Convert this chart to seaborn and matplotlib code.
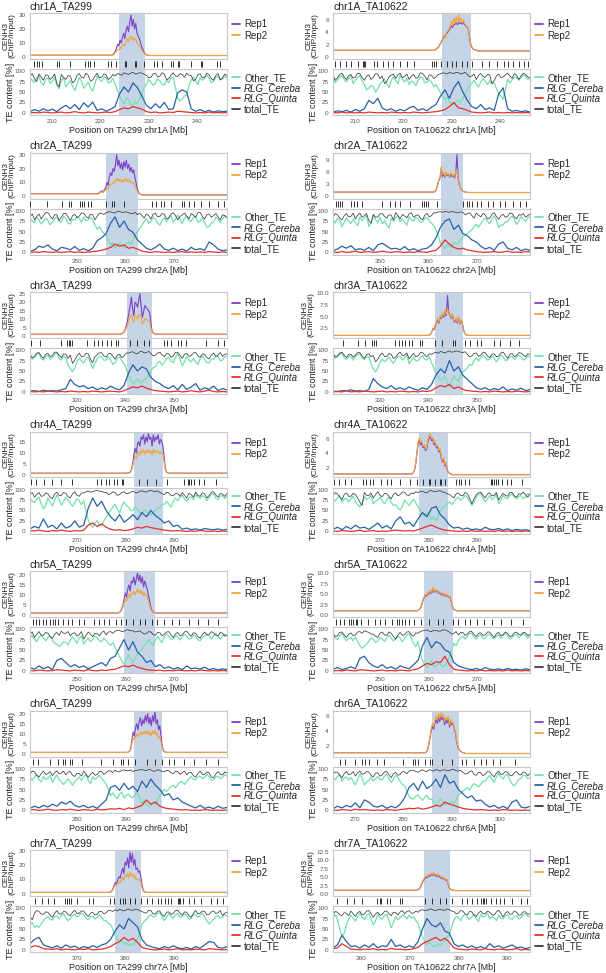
import numpy as np
import matplotlib
matplotlib.use("Agg")
import matplotlib.pyplot as plt
from matplotlib.lines import Line2D
import seaborn as sns

sns.set_theme(style="white")
plt.rcParams["font.family"] = ["Liberation Sans", "DejaVu Sans"]

panels = ["chr1A_TA299", "chr1A_TA10622", "chr2A_TA299", "chr2A_TA10622",
          "chr3A_TA299", "chr3A_TA10622", "chr4A_TA299", "chr4A_TA10622",
          "chr5A_TA299", "chr5A_TA10622", "chr6A_TA299", "chr6A_TA10622",
          "chr7A_TA299", "chr7A_TA10622"]
x_start = [205.5, 205.5, 340.3, 340.3, 320.3, 320.3, 260.3, 260.3, 240.3, 240.3, 270.3, 265.5, 360.3, 354.1]
x_end = [246.1, 246.1, 380.9, 380.9, 360.9, 360.9, 300.9, 300.9, 280.9, 280.9, 310.9, 306.1, 400.9, 394.7]
x_ticks = [[210, 220, 230, 240], [210, 220, 230, 240], [350, 360, 370], [350, 360, 370],
           [330, 340, 350], [330, 340, 350], [270, 280, 290], [270, 280, 290],
           [250, 260, 270], [250, 260, 270], [280, 290, 300], [270, 280, 290, 300],
           [370, 380, 390], [360, 370, 380, 390]]
cen_start = [223.8, 227.9, 355.9, 362.6, 340.2, 341.4, 281.7, 278.1, 259.7, 259.1, 291.8, 286.0, 377.9, 372.8]
cen_end = [229.3, 233.9, 362.6, 367.0, 345.5, 347.1, 287.8, 283.9, 266.0, 265.1, 297.5, 291.5, 383.2, 378.3]
chip_ylim = [(-1.5, 31.5), (-0.3, 7.1), (-1.5, 31.5), (-0.5, 11.0), (-1.2, 26.0), (0.45, 10.25),
             (-0.9, 19.5), (0.6, 7.1), (-1.0, 22.0), (-0.5, 10.6), (-1.0, 21.5), (0.6, 6.7),
             (-1.5, 30.5), (-0.6, 13.0)]
chip_yticks = [[0, 10, 20, 30], [0, 2, 4, 6], [0, 10, 20, 30], [0, 3, 6, 9],
               [0, 5, 10, 15, 20, 25], [2.5, 5.0, 7.5, 10.0], [0, 5, 10, 15], [2, 4, 6],
               [0, 5, 10, 15, 20], [0.0, 2.5, 5.0, 7.5, 10.0], [0, 5, 10, 15, 20], [2, 4, 6],
               [0, 10, 20, 30], [0.0, 2.5, 5.0, 7.5, 10.0, 12.5]]

# CENH3 ChIP/input, 0.25 Mb bins starting 1.5 Mb before each centromere
rep1 = [
    [1.2, 1.5, 2.5, 4, 6, 9, 8, 12, 10, 14, 17, 13, 19, 22, 18, 25, 30, 22, 27, 20, 24, 17, 15, 13, 10, 7, 5, 3, 2, 1.5, 1.2, 1.1, 1, 1, 1],
    [1.1, 1.2, 1.4, 1.6, 1.8, 2.2, 2.5, 3, 3.4, 3.2, 3.8, 4, 4.3, 4.6, 5, 4.8, 5.2, 5.3, 5.5, 5.2, 5.6, 5.4, 5.5, 5.3, 5.6, 5.2, 5, 4.8, 4.5, 3, 2, 1.5, 1.3, 1.2, 1.1, 1.1, 1],
    [2, 3, 3.5, 4, 3, 5, 6, 10, 8, 14, 17, 15, 20, 18, 22, 30, 22, 26, 20, 24, 19, 25, 21, 26, 20, 23, 18, 21, 17, 19, 14, 10, 6, 3, 2, 1.5, 1.2, 1.1, 1],
    [1.1, 1.3, 1.8, 2.8, 4, 4.5, 7, 5, 5.5, 4.8, 6, 5.2, 5.5, 4.8, 5.8, 5, 5.2, 4.6, 5.8, 10.5, 4.5, 3, 2, 1.6, 1.3, 1.2, 1.1, 1.1, 1, 1],
    [1, 1.1, 1.3, 1.8, 2.5, 4, 7, 10, 14, 18, 23, 16, 12, 20, 19, 17, 21, 25, 18, 11, 14, 18, 17, 16, 15, 14, 8, 3, 1.8, 1.3, 1.1, 1, 1, 1],
    [1, 1.1, 1.3, 1.7, 2.5, 2.2, 3.2, 3.8, 4.3, 3.6, 5, 4.6, 5.5, 4.9, 6, 5.2, 9.5, 5.8, 5.3, 4.6, 5.5, 4.2, 3.8, 4.5, 3.6, 4.8, 3.4, 4.2, 3.8, 2.4, 1.5, 1.2, 1.1, 1, 1],
    [1, 1.1, 1.2, 1.5, 2.5, 5, 9, 12, 10, 14, 15, 13, 17, 16, 18, 14, 17, 15, 18.5, 16, 17, 13, 18, 15, 17, 16, 18, 14, 16, 15, 13, 8, 3, 1.5, 1.2, 1, 1],
    [1.1, 1.3, 1.6, 2.5, 4, 5.3, 5.8, 5.2, 5.5, 4.8, 5, 4.4, 4.6, 5.6, 6.2, 6.4, 5.8, 6, 5.2, 5.5, 4.8, 5, 4.2, 4.5, 3.4, 2.8, 3.2, 2.2, 2.6, 1.6, 1.3, 1.2, 1.1, 1, 1, 1],
    [1, 1.1, 1.3, 1.8, 3, 5, 8, 11, 9, 13, 15, 12, 17, 16, 19, 15, 18, 21, 17, 20, 16, 19, 14, 17, 15, 13, 10, 7, 4, 2, 1.4, 1.2, 1.1, 1, 1],
    [1, 1.1, 1.3, 1.7, 2.5, 3.5, 4.2, 4.8, 4.5, 5.2, 5, 5.6, 5.2, 6.2, 5.4, 6, 5.5, 5.8, 5.2, 5.4, 4.8, 5.2, 4.6, 5, 4.4, 4.8, 4.2, 4.5, 3.5, 2.2, 1.5, 1.2, 1.1, 1, 1, 1, 1],
    [1, 1.2, 1.6, 3, 7, 11, 9, 13, 15, 12, 16, 18, 14, 17, 15, 19, 16, 20, 15, 18, 14, 19, 16, 21, 15, 17, 12, 14, 9, 4, 2, 1.3, 1.1, 1, 1],
    [1.1, 1.2, 1.5, 2.2, 3, 4, 4.6, 4.2, 5, 5.5, 5, 5.8, 5.2, 6, 5.5, 5.8, 4.8, 5.5, 5, 5.8, 4.5, 5.2, 4.8, 5, 4.2, 3.6, 2.5, 1.8, 1.5, 1.3, 1.2, 1.1, 1.1, 1, 1],
    [1, 1.1, 1.3, 2, 3.5, 6, 8, 7, 10, 12, 11, 15, 18, 14, 22, 20, 25, 18, 29, 22, 28, 20, 24, 17, 18, 15, 16, 12, 6, 2.5, 1.4, 1.1, 1, 1],
    [1.1, 1.2, 1.4, 1.8, 2.5, 3.5, 4, 4.6, 5, 4.8, 5.5, 5.2, 5.8, 5.4, 6, 5.6, 5.2, 5.8, 5, 5.4, 4.6, 5, 4.4, 4.6, 4, 4.2, 3, 1.8, 1.4, 1.2, 1.1, 1.1, 1, 1, 1],
]
rep2 = [
    [1.1, 1.3, 2, 3, 4, 5, 5, 7, 6, 8, 9, 8, 11, 13, 11, 14, 15, 12, 14, 12, 13, 10, 9, 8, 6, 5, 3.5, 2.5, 1.8, 1.3, 1.1, 1, 1, 1, 1],
    [1.1, 1.2, 1.3, 1.5, 1.9, 2.3, 2.4, 3.1, 3.6, 3, 4, 4.2, 4.5, 5, 5.8, 5, 6.2, 5.5, 6.5, 5.4, 6.8, 5.6, 6.3, 5.5, 6, 5.3, 5.1, 4.9, 4.6, 3.2, 2.1, 1.6, 1.3, 1.2, 1.1, 1, 1],
    [1.8, 2.5, 3, 3.3, 2.8, 4, 4.5, 6, 5.5, 8, 9, 8.5, 10, 9.5, 11, 13, 11, 12.5, 10.5, 12, 10, 12.5, 11, 13, 10.5, 12, 10, 11, 9.5, 10, 8, 6, 4, 2.5, 1.8, 1.3, 1.1, 1, 1],
    [1.1, 1.3, 1.9, 3, 4.2, 4.8, 7.5, 5.5, 6, 5, 6.2, 5.4, 5.7, 5, 6, 5.3, 5.5, 4.8, 6.2, 6.8, 4.2, 2.8, 2, 1.5, 1.3, 1.2, 1.1, 1, 1, 1],
    [1, 1.1, 1.2, 1.6, 2.2, 3.5, 5, 7, 9, 11, 13, 10, 8, 12, 11.5, 10, 12, 13, 11, 7, 8, 10, 10, 9.5, 9, 8.5, 5, 2.5, 1.6, 1.2, 1.1, 1, 1, 1],
    [1, 1.1, 1.3, 1.8, 2.6, 2.4, 3.4, 4, 4.6, 3.8, 5.3, 4.8, 5.8, 5.2, 6.4, 5.5, 6.6, 6, 5.5, 4.8, 5.7, 4.4, 4, 4.7, 3.8, 5, 3.6, 4.4, 4, 2.6, 1.6, 1.2, 1.1, 1, 1],
    [1, 1, 1.1, 1.4, 2.2, 4, 6.5, 8.5, 7.5, 10, 10.5, 9, 11, 10, 11.5, 9.5, 11, 10, 11.5, 10, 11, 9, 11.5, 10, 11, 10.5, 11, 9.5, 10.5, 10, 9, 6, 2.5, 1.4, 1.1, 1, 1],
    [1.1, 1.3, 1.7, 2.7, 4.3, 5.6, 6.2, 5.5, 5.8, 5, 5.3, 4.6, 4.8, 6, 6.6, 6.8, 6.1, 6.3, 5.5, 5.8, 5, 5.2, 4.4, 4.7, 3.6, 3, 3.4, 2.4, 2.8, 1.7, 1.3, 1.2, 1.1, 1, 1, 1],
    [1, 1.1, 1.2, 1.6, 2.5, 4, 6, 8, 7, 9, 10.5, 8.5, 11, 10.5, 12, 10, 11.5, 13, 11, 12.5, 10.5, 12, 9.5, 11, 10, 9, 7, 5, 3, 1.8, 1.3, 1.1, 1, 1, 1],
    [1, 1.1, 1.3, 1.8, 2.7, 3.8, 4.4, 5, 4.7, 5.5, 5.2, 6, 5.4, 6.6, 5.6, 6.2, 5.7, 6, 5.4, 5.6, 5, 5.4, 4.8, 5.2, 4.5, 4.9, 4.3, 4.6, 3.6, 2.3, 1.6, 1.2, 1.1, 1, 1, 1, 1],
    [1, 1.1, 1.5, 2.6, 5.5, 8, 7, 9, 10, 8.5, 10.5, 11, 9.5, 11, 10, 11.5, 10, 11.5, 9.5, 11, 9, 11.5, 10, 12, 9.5, 10.5, 8, 9, 6, 3, 1.6, 1.2, 1, 1, 1],
    [1.1, 1.2, 1.6, 2.4, 3.2, 4.3, 5, 4.5, 5.4, 6, 5.4, 6.3, 5.6, 6.4, 5.8, 6.2, 5.2, 5.8, 5.4, 6, 4.8, 5.5, 5, 5.2, 4.4, 3.8, 2.6, 1.9, 1.5, 1.3, 1.2, 1.1, 1.1, 1, 1],
    [1, 1.1, 1.2, 1.8, 3, 5, 6.5, 6, 7.5, 8.5, 8, 10, 11.5, 9.5, 13, 12, 14, 11, 15, 12.5, 14, 11.5, 13, 10, 11, 9.5, 10, 8, 4, 2, 1.3, 1.1, 1, 1],
    [1.1, 1.2, 1.5, 2, 2.8, 3.8, 4.3, 5, 5.4, 5.1, 5.9, 5.5, 6.2, 5.7, 6.3, 5.9, 5.5, 6, 5.3, 5.6, 4.9, 5.2, 4.6, 4.8, 4.2, 4.4, 3.1, 1.9, 1.5, 1.2, 1.1, 1.1, 1, 1, 1],
]

# gene positions (Mb)
genes = [
    [206.4, 206.9, 207.4, 207.9, 211.0, 211.5, 213.8, 216.9, 217.4, 217.9, 218.6, 221.5, 222.2, 223.2, 225.0, 225.2, 227.2, 227.4, 229.0, 231.0, 231.7, 232.8, 234.5, 235.0, 235.9, 236.2, 238.6, 240.7, 240.9, 244.1, 244.6],
    [205.9, 206.9, 208.1, 209.3, 210.7, 211.6, 211.9, 212.1, 213.9, 214.6, 215.9, 216.9, 217.8, 219.4, 220.8, 222.1, 226.0, 226.3, 226.8, 227.7, 229.0, 230.0, 230.9, 232.1, 233.1, 234.1, 236.2, 237.6, 239.3, 240.7, 241.5, 242.6, 243.8, 244.8, 245.7],
    [340.2, 343.8, 346.9, 348.3, 348.8, 350.7, 351.0, 351.4, 352.2, 352.8, 355.9, 357.2, 357.6, 359.7, 365.5, 366.2, 367.2, 367.9, 369.3, 371.7, 372.1, 373.1, 374.1, 375.5, 377.2, 379.0, 380.2],
    [341.0, 341.4, 341.7, 342.1, 344.1, 344.6, 345.3, 346.2, 350.5, 352.1, 353.1, 354.1, 356.1, 358.6, 359.1, 359.5, 359.8, 361.7, 367.1, 367.9, 368.4, 368.9, 370.0, 370.7, 372.2, 373.3, 374.7, 375.7, 377.4, 378.8, 380.0],
    [320.5, 322.3, 326.7, 327.9, 328.3, 328.6, 329.0, 332.1, 333.4, 334.3, 335.2, 336.1, 337.0, 338.1, 338.4, 341.0, 342.4, 343.7, 344.8, 347.9, 348.6, 349.4, 350.7, 351.4, 352.4, 356.6, 359.0, 360.2],
    [322.4, 325.5, 326.9, 328.3, 328.8, 329.2, 333.1, 333.8, 334.5, 335.2, 335.9, 336.6, 338.3, 338.6, 341.4, 342.8, 345.0, 345.5, 347.6, 348.6, 349.9, 350.7, 353.4, 354.8, 356.8, 358.6],
    [260.5, 261.6, 263.1, 264.8, 266.6, 269.0, 274.1, 274.9, 275.9, 276.6, 277.6, 278.3, 279.3, 279.5, 282.8, 284.5, 286.2, 288.6, 292.1, 292.8, 293.1, 293.4, 294.1, 295.2, 296.2, 298.6],
    [260.5, 261.6, 262.8, 264.1, 266.4, 267.1, 267.9, 268.6, 270.1, 271.4, 272.2, 274.1, 276.2, 277.7, 278.9, 280.0, 280.3, 281.4, 282.3, 282.6, 283.4, 285.7, 286.2, 286.7, 287.6, 288.3, 292.8, 293.1, 293.4, 293.8, 294.3, 295.2, 296.2, 297.0, 299.3],
    [241.0, 241.5, 242.2, 243.0, 243.5, 244.5, 245.0, 245.5, 246.0, 247.0, 248.2, 249.0, 250.5, 251.5, 253.5, 254.5, 255.5, 256.5, 258.0, 259.0, 260.0, 261.5, 263.0, 264.0, 265.5, 266.5, 268.0, 269.5, 271.0, 273.0, 275.0, 277.0, 279.0],
    [241.0, 241.8, 242.5, 243.5, 244.0, 244.5, 245.0, 245.3, 246.0, 247.5, 249.0, 250.0, 251.0, 252.5, 253.5, 254.0, 254.6, 255.2, 256.0, 257.0, 258.5, 260.0, 262.0, 263.0, 265.0, 266.0, 267.5, 268.5, 270.0, 271.5, 273.0, 275.0, 277.0, 279.5],
    [271.0, 272.0, 274.5, 276.0, 277.0, 277.5, 278.5, 279.0, 281.0, 285.0, 287.5, 289.0, 289.5, 290.5, 292.0, 294.5, 296.0, 297.5, 299.0, 300.0, 302.0, 304.0, 306.5, 309.0],
    [267.0, 268.0, 270.0, 271.5, 272.0, 273.0, 274.5, 276.0, 280.0, 282.0, 282.5, 283.0, 284.5, 285.5, 286.0, 288.0, 290.0, 292.0, 293.0, 294.5, 296.0, 297.0, 298.5, 300.0, 303.0],
    [361.4, 362.8, 364.1, 365.3, 367.6, 367.9, 368.3, 368.8, 369.9, 372.4, 373.3, 376.8, 377.6, 378.8, 379.5, 379.8, 380.9, 381.9, 383.1, 384.5, 385.5, 386.6, 387.4, 388.1, 388.8, 389.4, 390.7, 391.1, 391.3, 391.8, 393.1, 394.1, 395.5, 397.6, 398.8, 400.0],
    [355.0, 356.9, 358.4, 360.0, 363.1, 363.7, 363.9, 365.2, 365.9, 367.9, 368.3, 373.1, 374.5, 376.1, 377.4, 378.6, 380.7, 381.7, 382.8, 383.8, 384.5, 385.0, 385.3, 385.7, 386.6, 387.6, 388.6, 389.4, 391.0, 392.8, 394.1],
]

# TE content [%], equal bins across each window
other_te = [
    [85, 78, 73, 84, 89, 72, 66, 80, 84, 70, 76, 86, 66, 58, 78, 85, 62, 70, 77, 64, 53, 68, 85, 76, 59, 66, 74, 60, 52, 70, 89, 80, 75, 86, 85, 72, 74, 82, 70, 55,
     40, 30, 22, 35, 32, 20, 15, 28, 22, 35, 46, 60,
     69, 80, 74, 66, 71, 82, 76, 68, 67, 78, 72, 84, 85, 60, 35, 28, 34, 40, 43, 65, 78, 86, 76, 68, 84, 78, 83, 90, 83, 72, 76, 85, 88, 79, 81, 88, 83],
    [88, 72, 79, 86, 90, 80, 74, 83, 89, 70, 78, 85, 89, 76, 68, 55, 59, 66, 62, 50, 58, 70, 75, 82, 69, 60, 78, 86, 77, 70, 90, 80, 74, 83, 68, 76, 74, 65, 78, 86,
     84, 72, 73, 80, 74, 62, 68, 58, 48, 40, 32, 38, 27, 22, 20, 28, 30, 25, 35, 45, 56, 64, 71, 78, 69, 62, 74, 82, 76, 68, 77, 70, 71, 58, 47, 40, 32, 55,
     80, 72, 79, 86, 84, 78, 85, 90, 89, 80, 82],
    [82, 75, 71, 84, 77, 68, 74, 82, 76, 66, 72, 80, 85, 74, 72, 86, 82, 70, 68, 79, 77, 85, 82, 72, 85, 76, 78, 84, 78, 66, 55, 62, 53, 45,
     40, 28, 18, 24, 10, 16, 22, 15, 12, 20, 25, 18, 30, 40, 50, 58,
     65, 74, 81, 70, 74, 84, 80, 70, 65, 76, 83, 74, 82, 88, 72, 80, 90, 78, 69, 82, 87, 76, 74, 84, 86, 72, 75, 82, 70, 60, 62, 70, 73, 84, 80, 72, 80, 88, 83],
    [79, 70, 82, 76, 61, 72, 83, 75, 69, 80, 71, 64, 85, 76, 82, 88, 62, 70, 88, 78, 72, 84, 68, 76, 66, 58, 81, 74, 83, 88, 73, 80, 73, 65, 86, 78, 75, 84, 80, 72,
     73, 82, 83, 76, 70, 64, 54, 40, 22, 15, 10, 18, 15, 12, 25, 20, 22, 30, 38, 42, 45, 50, 54, 62, 67, 60, 69, 76,
     82, 74, 69, 80, 88, 78, 59, 66, 65, 74, 73, 82, 87, 78, 67, 74, 85, 80, 74, 82, 86],
    [87, 78, 82, 90, 92, 80, 76, 84, 88, 78, 83, 90, 93, 80, 76, 86, 82, 64, 56, 48, 57, 72, 81, 74, 69, 80, 83, 70, 56, 68, 78, 86, 84, 76, 76, 84, 76, 66, 69, 80,
     85, 74, 68, 55, 40, 30, 19, 26, 31, 22, 23, 30, 31, 42, 51, 58, 60, 70,
     73, 64, 71, 80, 83, 74, 70, 82, 92, 78, 62, 72, 85, 76, 72, 80, 71, 66, 79, 86, 78, 70, 69, 78, 78, 84, 85, 74, 76, 84, 86],
    [90, 80, 84, 90, 92, 82, 77, 86, 85, 76, 85, 90, 91, 80, 77, 84, 84, 66, 55, 48, 57, 70, 79, 72, 77, 84, 75, 68, 77, 86, 85, 76, 82, 88, 67, 76, 84, 74, 75, 82,
     87, 78, 76, 84, 70, 58, 45, 36, 27, 32, 36, 22, 12, 25, 38, 30, 25, 40, 48, 52, 57, 66, 64, 75,
     82, 74, 82, 88, 83, 76, 78, 86, 81, 72, 80, 88, 83, 75, 77, 84, 85, 78, 83, 88, 84, 76, 80, 86, 83],
    [80, 72, 69, 78, 82, 66, 54, 62, 80, 70, 61, 74, 87, 76, 63, 72, 82, 74, 68, 60, 68, 78, 73, 64, 74, 50,
     27, 18, 10, 20, 26, 14, 15, 25, 34, 42, 50, 58, 65, 54, 44, 60, 71, 62, 58, 50,
     50, 58, 54, 46, 44, 52, 47, 40, 39, 46, 50, 56, 58, 64,
     65, 72, 65, 58, 72, 80, 73, 82, 87, 78, 72, 80, 83, 76, 88, 82, 79, 86, 82, 74, 81, 88, 90, 80, 76, 84, 86, 78, 86],
    [79, 72, 80, 86, 70, 78, 79, 70, 78, 84, 72, 64, 59, 68, 83, 76, 80, 86, 66, 72, 75, 82, 74, 66, 76, 82, 70, 62, 64, 56, 51, 60, 75, 68, 62, 70, 77, 68, 59, 50,
     43, 36, 45, 40, 28, 34, 25, 38, 51, 56, 60, 66,
     71, 64, 71, 78, 82, 74, 79, 86, 82, 72, 62, 70, 82, 88, 90, 80, 70, 78, 86, 76, 81, 88, 66, 74, 86, 80, 78, 86, 91, 82, 77, 84, 86, 78, 83, 90, 88],
    [79, 85, 76, 70, 80, 86, 79, 72, 80, 84, 74, 66, 64, 58, 63, 70, 69, 62, 74, 82, 74, 66, 78, 84, 64, 72, 78, 70, 76, 84, 79, 72, 70, 78, 73, 66, 61, 68, 56, 45,
     34, 24, 15, 28, 38, 30, 20, 32, 40, 46, 51, 60,
     67, 74, 66, 60, 74, 82, 74, 68, 82, 88, 83, 76, 76, 84, 82, 74, 82, 88, 83, 76, 78, 86, 83, 74, 72, 80, 83, 88, 84, 76, 84, 90, 82, 76, 84, 88, 83],
    [86, 78, 75, 84, 90, 80, 72, 78, 80, 72, 81, 70, 61, 54, 59, 64, 71, 78, 76, 68, 71, 80, 76, 70, 79, 86, 79, 72, 76, 84, 78, 70, 78, 86, 89, 78, 65, 58, 70, 45,
     24, 15, 8, 16, 24, 12, 10, 18, 15, 10, 13, 22, 33, 50,
     66, 60, 72, 80, 83, 76, 83, 90, 90, 80, 76, 84, 87, 78, 78, 86, 88, 80, 77, 84, 86, 78, 85, 90, 82, 76, 81, 86, 88, 80, 84, 90, 85, 78, 85],
    [80, 72, 80, 86, 74, 68, 81, 74, 77, 84, 67, 76, 85, 74, 68, 62, 69, 76, 68, 60, 68, 74, 80, 72, 80, 86, 72, 64, 81, 74, 78, 84, 77, 70, 63, 50,
     35, 42, 33, 28, 39, 44, 30, 36, 39, 32, 31, 40, 43, 30, 16, 24, 15, 10, 10, 18, 14, 24, 36, 44,
     51, 45, 51, 58, 60, 54, 61, 68, 69, 62, 68, 76, 81, 74, 73, 80, 82, 76, 79, 86, 81, 72, 74, 80, 82, 76, 80, 86, 81],
    [80, 73, 81, 86, 70, 78, 80, 72, 79, 70, 61, 74, 87, 78, 61, 68, 71, 80, 70, 76, 81, 74, 73, 82, 86, 76, 67, 74, 85, 78, 69, 62, 59, 45,
     34, 28, 27, 34, 37, 30, 24, 32, 36, 26, 28, 20, 11, 18, 29, 20, 12, 18, 15, 22, 16, 26, 36, 42,
     46, 50, 55, 48, 58, 64, 61, 56, 63, 70, 70, 78, 84, 74, 67, 80, 89, 80, 75, 84, 86, 72, 63, 58, 67, 74, 77, 84, 83, 76, 78],
    [60, 66, 53, 58, 54, 62, 70, 76, 80, 72, 72, 80, 81, 74, 82, 86, 77, 70, 75, 82, 86, 78, 84, 88, 84, 76, 72, 80, 80, 74, 78, 84, 78, 70, 70, 64,
     61, 50, 36, 26, 17, 22, 13, 18, 10, 15, 12, 20, 24, 40,
     61, 68, 73, 80, 85, 78, 81, 88, 89, 80, 70, 78, 87, 80, 76, 84, 87, 78, 80, 86, 83, 74, 76, 84, 84, 78, 83, 88, 80, 70, 62, 68, 73, 80, 82, 76, 78, 84, 81],
    [77, 84, 73, 50, 32, 40, 60, 74, 83, 76, 69, 80, 88, 78, 72, 82, 87, 74, 60, 70, 85, 76, 74, 82, 85, 70, 53, 66, 80, 72, 77, 84, 81, 74, 83, 76, 79, 70, 64, 45,
     31, 20, 12, 18, 13, 8, 9, 15, 10, 16, 22, 30, 38, 55,
     72, 80, 78, 70, 80, 86, 79, 72, 79, 86, 75, 68, 85, 78, 81, 88, 74, 80, 77, 70, 83, 76, 74, 82, 84, 76, 73, 80, 82, 74, 77, 84, 87, 80, 81],
]
cereba = [
    [3, 8, 4, 10, 5, 9, 3, 12, 18, 10, 20, 8, 24, 14, 26, 6, 10, 4, 9, 15, 45, 62, 50, 72, 60, 40, 18, 10, 22, 12, 25, 8, 10, 48, 55, 50, 10, 4, 8, 3, 6, 2, 5, 3, 4],
    [2, 5, 3, 6, 2, 8, 4, 10, 30, 22, 35, 12, 6, 10, 4, 8, 5, 12, 16, 6, 10, 5, 14, 20, 40, 55, 35, 60, 75, 50, 30, 15, 10, 20, 8, 12, 6, 45, 60, 10, 4, 6, 3, 5, 2],
    [3, 6, 15, 12, 18, 8, 4, 12, 10, 6, 14, 5, 9, 4, 10, 28, 35, 45, 70, 85, 60, 75, 55, 48, 30, 20, 10, 6, 12, 20, 8, 5, 10, 4, 8, 3, 12, 6, 9, 5, 25, 18, 8, 4, 6],
    [4, 8, 15, 10, 16, 6, 9, 5, 12, 4, 18, 22, 15, 8, 10, 6, 14, 5, 9, 4, 8, 10, 18, 35, 60, 75, 80, 55, 65, 45, 40, 30, 25, 15, 8, 12, 5, 20, 25, 10, 6, 12, 4, 8, 5],
    [2, 3, 1, 4, 2, 3, 2, 5, 8, 30, 18, 12, 15, 8, 12, 5, 10, 6, 14, 8, 5, 15, 45, 65, 50, 60, 55, 35, 25, 20, 12, 8, 15, 5, 18, 6, 12, 20, 4, 10, 6, 14, 3, 8, 5],
    [2, 1, 3, 2, 5, 2, 3, 1, 6, 32, 20, 12, 8, 15, 6, 10, 5, 12, 7, 4, 10, 6, 18, 40, 55, 45, 75, 50, 60, 40, 30, 20, 10, 6, 10, 4, 8, 5, 12, 3, 7, 4, 9, 3, 6],
    [6, 12, 8, 30, 10, 15, 6, 20, 8, 12, 25, 10, 15, 55, 80, 60, 72, 50, 35, 25, 40, 22, 30, 40, 28, 45, 35, 50, 38, 30, 20, 25, 12, 15, 5, 8, 4, 6, 3, 7, 5, 4, 6, 3, 5],
    [5, 10, 4, 12, 6, 15, 8, 10, 5, 12, 20, 8, 14, 6, 25, 35, 18, 22, 12, 30, 45, 35, 55, 60, 40, 30, 15, 8, 10, 5, 8, 4, 6, 3, 10, 5, 4, 7, 3, 6, 2, 5, 3, 4, 2],
    [8, 4, 12, 5, 10, 3, 25, 30, 20, 10, 15, 8, 12, 5, 10, 15, 20, 12, 30, 35, 55, 75, 50, 70, 45, 35, 20, 25, 10, 15, 6, 10, 4, 8, 3, 12, 5, 7, 4, 9, 3, 6, 2, 5, 3],
    [4, 8, 3, 6, 10, 5, 30, 35, 20, 12, 8, 15, 6, 10, 4, 12, 8, 5, 15, 25, 60, 80, 55, 70, 65, 50, 45, 20, 12, 8, 5, 3, 6, 2, 8, 4, 3, 5, 2, 6, 3, 4, 2, 5, 3],
    [5, 10, 6, 12, 8, 15, 10, 20, 15, 22, 12, 8, 12, 6, 10, 5, 15, 25, 55, 60, 48, 65, 50, 58, 45, 70, 55, 75, 60, 50, 35, 40, 25, 30, 20, 15, 10, 6, 12, 5, 8, 4, 10, 5, 7],
    [4, 10, 6, 12, 8, 18, 6, 25, 20, 10, 8, 12, 5, 10, 6, 15, 30, 55, 65, 48, 70, 52, 60, 75, 55, 85, 65, 70, 50, 40, 30, 35, 22, 25, 15, 8, 12, 5, 10, 4, 20, 25, 8, 6, 10],
    [15, 25, 30, 12, 8, 5, 10, 4, 12, 6, 9, 3, 8, 5, 10, 6, 12, 15, 25, 45, 60, 50, 75, 65, 55, 25, 12, 8, 5, 3, 8, 4, 10, 5, 3, 6, 2, 8, 4, 12, 20, 18, 6, 4, 8],
    [5, 12, 35, 20, 8, 10, 4, 12, 6, 15, 5, 10, 8, 25, 8, 12, 5, 10, 6, 20, 50, 75, 60, 55, 65, 45, 40, 15, 8, 12, 5, 10, 4, 8, 3, 15, 6, 10, 4, 8, 12, 5, 7, 3, 6],
]
quinta = [
    [0, 1, 0, 2, 1, 0, 1, 2, 0, 1, 3, 1, 0, 2, 1, 0, 1, 2, 1, 3, 8, 12, 10, 15, 12, 9, 3, 1, 2, 0, 1, 2, 1, 4, 3, 2, 1, 0, 1, 0, 2, 0, 1, 0, 1],
    [1, 0, 2, 0, 1, 0, 1, 0, 2, 1, 0, 1, 0, 2, 1, 0, 1, 0, 2, 1, 0, 1, 2, 3, 5, 8, 15, 25, 12, 10, 6, 2, 1, 0, 1, 2, 0, 1, 0, 1, 0, 1, 0, 1, 0],
    [0, 1, 0, 2, 1, 0, 1, 0, 1, 2, 0, 1, 0, 1, 2, 3, 5, 8, 12, 20, 15, 18, 10, 12, 8, 3, 1, 0, 2, 1, 0, 1, 0, 1, 2, 0, 1, 0, 1, 0, 2, 1, 0, 1, 0],
    [1, 0, 2, 0, 1, 3, 0, 1, 2, 0, 1, 3, 1, 0, 2, 1, 0, 1, 0, 2, 1, 0, 3, 5, 15, 30, 20, 12, 8, 10, 6, 4, 2, 1, 0, 1, 2, 0, 1, 3, 0, 1, 0, 2, 1],
    [1, 0, 1, 0, 2, 1, 0, 1, 0, 2, 1, 0, 1, 0, 2, 1, 0, 1, 2, 1, 0, 3, 8, 12, 10, 14, 9, 6, 3, 2, 1, 0, 1, 2, 0, 1, 3, 1, 0, 2, 4, 1, 0, 1, 0],
    [0, 1, 0, 3, 0, 1, 0, 2, 1, 0, 1, 2, 0, 1, 0, 2, 1, 0, 1, 0, 2, 1, 3, 10, 15, 12, 18, 8, 12, 6, 3, 2, 1, 0, 1, 0, 2, 1, 0, 1, 0, 2, 1, 0, 1],
    [2, 1, 3, 1, 0, 2, 1, 3, 1, 0, 2, 1, 3, 15, 20, 12, 18, 10, 5, 3, 4, 2, 3, 6, 10, 8, 12, 9, 7, 5, 3, 2, 1, 2, 1, 0, 1, 0, 2, 1, 0, 1, 0, 1, 0],
    [1, 0, 2, 1, 0, 1, 3, 0, 1, 2, 0, 1, 0, 2, 3, 2, 1, 2, 1, 4, 8, 12, 15, 10, 6, 3, 2, 1, 0, 1, 0, 2, 0, 1, 0, 1, 0, 2, 0, 1, 0, 1, 0, 1, 0],
    [1, 0, 2, 1, 0, 1, 3, 2, 1, 0, 2, 1, 0, 3, 1, 0, 2, 1, 3, 4, 8, 12, 10, 14, 9, 6, 3, 2, 1, 2, 0, 1, 0, 2, 1, 0, 1, 0, 2, 1, 0, 1, 0, 1, 0],
    [0, 1, 0, 2, 1, 0, 3, 2, 1, 0, 1, 2, 0, 1, 0, 2, 1, 0, 3, 5, 12, 18, 15, 22, 20, 35, 15, 4, 2, 1, 0, 1, 0, 2, 0, 1, 0, 1, 0, 2, 0, 1, 0, 1, 0],
    [1, 2, 0, 1, 3, 1, 0, 2, 1, 3, 1, 0, 2, 1, 0, 3, 1, 2, 4, 3, 5, 2, 6, 4, 8, 12, 25, 15, 20, 10, 6, 4, 3, 2, 1, 2, 0, 1, 0, 2, 1, 0, 1, 0, 1],
    [1, 0, 2, 1, 0, 3, 1, 2, 1, 0, 1, 0, 2, 1, 0, 2, 3, 5, 4, 6, 3, 5, 8, 12, 10, 20, 15, 12, 8, 5, 3, 2, 1, 2, 1, 0, 1, 0, 2, 1, 0, 1, 0, 1, 0],
    [5, 10, 8, 3, 2, 1, 3, 0, 2, 1, 0, 2, 1, 3, 0, 1, 2, 4, 8, 15, 20, 30, 22, 28, 18, 6, 3, 1, 0, 1, 2, 0, 1, 3, 0, 1, 0, 2, 1, 0, 3, 2, 1, 0, 1],
    [3, 5, 15, 8, 2, 1, 0, 2, 1, 3, 0, 1, 0, 4, 1, 2, 0, 1, 3, 6, 15, 20, 25, 30, 22, 28, 18, 5, 2, 1, 0, 2, 1, 0, 3, 1, 0, 2, 1, 0, 1, 3, 0, 1, 0],
]
total_te = [
    [88, 94, 82, 75, 93, 86, 78, 91, 90, 80, 85, 93, 70, 62, 92, 85, 80, 89, 88, 72, 76, 90, 94, 85, 83, 95, 90, 76, 79, 88, 95, 84, 86, 93, 91, 80, 84, 92, 88, 94,
     93, 90, 96, 94, 92, 95, 97, 93, 94, 96, 95, 92,
     90, 84, 85, 93, 95, 86, 88, 96, 93, 79, 82, 91, 96, 88, 87, 94, 92, 85, 95, 90, 89, 77, 80, 92, 93, 84, 86, 95, 91, 82, 78, 90, 94, 79, 84, 93, 88],
    [90, 78, 84, 92, 95, 86, 80, 89, 92, 83, 86, 95, 94, 85, 78, 88, 91, 80, 85, 94, 93, 82, 88, 70, 75, 86, 90, 93, 82, 91, 95, 84, 87, 93, 80, 88, 92, 83, 85, 96,
     94, 88, 79, 91, 90, 82, 86, 92, 93, 96, 95, 93, 97, 95, 94, 97, 96, 93, 95, 97, 92, 86, 88, 93, 80, 90, 94, 87, 85, 92, 91, 70, 77, 88, 93, 84, 86, 91,
     95, 88, 83, 94, 90, 80, 88, 95, 92, 86, 84],
    [85, 92, 78, 86, 92, 80, 88, 95, 95, 87, 80, 90, 90, 76, 84, 93, 93, 85, 76, 88, 91, 83, 87, 94, 94, 86, 82, 91, 90, 78, 86, 94, 93, 91,
     95, 97, 97, 95, 94, 98, 98, 96, 96, 97, 95, 93, 93, 96, 90, 94,
     88, 82, 92, 88, 80, 91, 94, 85, 86, 93, 91, 80, 83, 92, 95, 88, 78, 86, 90, 94, 87, 80, 93, 89, 84, 95, 96, 86, 80, 90, 92, 84, 88, 93, 85, 78, 90, 88, 83],
    [84, 93, 90, 82, 78, 88, 93, 85, 86, 94, 80, 89, 94, 84, 88, 93, 76, 70, 91, 84, 85, 92, 93, 86, 82, 90, 89, 78, 95, 88, 80, 91, 87, 83, 92, 95, 84, 88, 90, 82,
     78, 89, 93, 85, 88, 95, 94, 97, 97, 96, 98, 97, 96, 98, 97, 95, 95, 97, 96, 90,
     92, 95, 88, 82, 94, 89, 85, 93, 90, 80, 82, 91, 95, 86, 79, 88, 91, 84, 86, 94, 93, 85, 80, 90, 89, 93, 84, 88, 92],
    [90, 82, 85, 93, 94, 86, 80, 90, 92, 84, 87, 95, 95, 88, 82, 91, 90, 80, 88, 68, 76, 86, 93, 84, 85, 92, 91, 78, 70, 84, 89, 93, 94, 86, 83, 91, 92, 85, 78, 88,
     90, 82, 86, 93, 93, 95, 96, 92, 91, 96, 97, 93, 94, 97, 92, 86,
     88, 93, 95, 89, 84, 92, 91, 83, 86, 95, 94, 88, 80, 90, 92, 85, 87, 93, 95, 86, 83, 91, 90, 82, 79, 88, 93, 85, 88, 94, 85, 90, 91],
    [92, 84, 86, 93, 95, 88, 82, 90, 90, 83, 88, 94, 94, 86, 80, 89, 91, 84, 87, 72, 78, 88, 93, 85, 85, 92, 90, 80, 83, 91, 95, 87, 88, 93, 79, 86, 92, 84, 86, 94,
     94, 88, 84, 91, 90, 93, 95, 92, 97, 95, 93, 96, 98, 95, 96, 98, 97, 95, 94, 96,
     90, 84, 86, 92, 93, 85, 88, 95, 94, 86, 82, 90, 91, 84, 86, 93, 95, 88, 80, 90, 92, 84, 87, 94, 93, 88, 84, 91, 90],
    [88, 93, 82, 88, 93, 84, 85, 92, 90, 82, 78, 89, 94, 86, 86, 93, 91, 83, 80, 90, 95, 86, 84, 92, 92, 95,
     97, 94, 95, 97, 98, 96, 96, 93, 94, 88, 90, 95, 93, 86, 88, 93, 95, 90, 91, 94,
     96, 93, 92, 96, 97, 95, 94, 97, 98, 96, 95, 97, 93, 90,
     88, 94, 92, 86, 85, 91, 90, 84, 93, 87, 80, 91, 88, 82, 94, 86, 84, 92, 90, 80, 86, 93, 95, 87, 82, 91, 89, 84, 91],
    [85, 93, 90, 82, 76, 88, 92, 84, 84, 91, 88, 80, 70, 62, 93, 86, 86, 92, 80, 88, 95, 86, 83, 91, 90, 84, 78, 89, 92, 85, 88, 94, 94, 87, 86, 92, 90, 95,
     93, 96, 96, 93, 92, 97, 98, 95, 95, 97, 97, 94, 93, 90,
     88, 84, 80, 90, 92, 86, 85, 93, 90, 80, 66, 78, 88, 92, 94, 86, 80, 90, 92, 85, 86, 93, 75, 84, 91, 86, 84, 93, 93, 85, 82, 90, 89, 94, 87, 82, 90],
    [88, 93, 80, 87, 94, 86, 85, 92, 90, 82, 78, 88, 92, 85, 95, 90, 90, 94, 84, 90, 91, 83, 87, 94, 76, 85, 93, 88, 82, 90, 89, 84, 92, 95, 86, 93, 94, 90,
     95, 97, 97, 94, 95, 98, 98, 96, 96, 93, 94, 96, 92, 88,
     90, 94, 93, 87, 85, 92, 91, 84, 88, 93, 94, 86, 80, 89, 92, 84, 86, 93, 95, 88, 83, 91, 90, 82, 78, 87, 93, 86, 87, 94, 91, 85, 84, 92, 90, 83, 86],
    [90, 82, 84, 92, 93, 86, 80, 88, 91, 84, 86, 93, 94, 90, 96, 94, 92, 88, 88, 83, 80, 90, 93, 86, 85, 93, 90, 82, 76, 86, 92, 85, 87, 93, 94, 86, 83, 91, 90, 94,
     96, 97, 98, 95, 94, 97, 97, 95, 95, 98, 98, 96, 93, 88,
     90, 94, 86, 92, 92, 85, 88, 94, 94, 87, 82, 90, 91, 85, 86, 93, 93, 86, 80, 89, 92, 84, 87, 93, 90, 82, 84, 91, 93, 87, 86, 92, 91, 84, 88],
    [86, 94, 92, 84, 80, 88, 94, 86, 88, 93, 83, 90, 95, 87, 90, 94, 85, 92, 93, 84, 81, 89, 88, 82, 94, 88, 79, 86, 91, 84, 86, 93, 93, 86, 90, 95,
     94, 91, 96, 93, 92, 96, 97, 95, 95, 97, 93, 95, 96, 97, 98, 96, 95, 98, 97, 94, 94, 97, 96, 93,
     92, 96, 95, 90, 88, 94, 93, 86, 90, 94, 85, 91, 91, 83, 80, 88, 94, 86, 86, 92, 90, 80, 78, 87, 93, 86, 85, 92, 89],
    [85, 92, 91, 84, 78, 88, 93, 85, 87, 93, 82, 90, 94, 86, 88, 93, 92, 84, 80, 89, 90, 82, 85, 92, 93, 86, 78, 88, 91, 84, 86, 93, 92, 88,
     94, 96, 96, 93, 91, 95, 97, 94, 93, 97, 96, 94, 98, 96, 94, 97, 97, 95, 95, 98, 98, 95, 94, 96,
     91, 87, 88, 93, 95, 86, 84, 91, 90, 83, 86, 93, 92, 85, 80, 89, 94, 86, 87, 93, 91, 84, 83, 90, 93, 86, 85, 92, 90, 83, 88],
    [80, 72, 88, 94, 92, 86, 85, 91, 90, 83, 78, 88, 94, 86, 86, 92, 91, 84, 82, 90, 95, 87, 88, 93, 93, 85, 80, 88, 90, 84, 85, 92, 92, 86, 89, 94,
     94, 92, 96, 93, 97, 95, 93, 96, 98, 95, 95, 97, 97, 94,
     92, 89, 88, 95, 94, 86, 86, 93, 93, 84, 80, 90, 91, 85, 87, 94, 95, 88, 83, 91, 90, 82, 78, 88, 94, 86, 88, 93, 92, 84, 85, 91, 93, 87, 89, 94, 82, 88, 90],
    [85, 92, 90, 84, 82, 89, 88, 82, 93, 86, 80, 89, 92, 84, 86, 93, 94, 87, 78, 86, 90, 83, 85, 92, 93, 86, 82, 90, 89, 84, 91, 94, 86, 92, 94, 88, 88, 93, 90, 95,
     96, 94, 95, 97, 98, 95, 94, 97, 97, 95, 95, 98, 96, 93,
     92, 86, 88, 94, 93, 86, 84, 92, 91, 83, 80, 88, 93, 86, 87, 93, 90, 84, 83, 91, 95, 87, 79, 88, 92, 85, 86, 93, 90, 83, 84, 91, 91, 85, 87],
]

c_rep1, c_rep2 = "#7f3fc6", "#f2a33a"
te_colors = {"Other_TE": "#72e2aa", "RLG_Cereba": "#2662a8", "RLG_Quinta": "#e2322b", "total_TE": "#3c3c3c"}
shade = "#c6d4e8"

W, H = 606, 973
fig = plt.figure(figsize=(W / 100, H / 100), dpi=100)
fig.patch.set_facecolor("white")


def rect(x, y, w, h):
    return [x / W, 1 - (y + h) / H, w / W, h / H]


def style(ax):
    for s in ax.spines.values():
        s.set_color("#c8c8c8")
        s.set_linewidth(0.8)
    ax.tick_params(length=2, width=0.5, color="#a0a0a0", labelsize=4.6,
                   labelcolor="#555555", pad=1)
    ax.grid(False)


for i, name in enumerate(panels):
    col, row = i % 2, i // 2
    px = 30 if col == 0 else 333
    py = row * 139.5
    xl = (x_start[i], x_end[i])

    ax_c = fig.add_axes(rect(px, py + 13, 197, 46))
    ax_g = fig.add_axes(rect(px, py + 59, 197, 10))
    ax_t = fig.add_axes(rect(px, py + 69, 197, 46))

    fig.text(px / W, 1 - (py + 6) / H, name, fontsize=7.5, va="center", ha="left", color="#222222")

    # CENH3 track
    for vals, c in ((rep1[i], c_rep1), (rep2[i], c_rep2)):
        cx = cen_start[i] - 1.5 + 0.25 * np.arange(len(vals))
        xs = np.r_[x_start[i], cx, x_end[i]]
        ys = np.r_[vals[0], vals, vals[-1]]
        sns.lineplot(x=xs, y=ys, ax=ax_c, color=c, linewidth=0.8, estimator=None, sort=False)
    ax_c.axvspan(cen_start[i], cen_end[i], color=shade, zorder=0, lw=0)
    ax_c.set_xlim(xl)
    ax_c.set_ylim(chip_ylim[i])
    ax_c.set_yticks(chip_yticks[i])
    labels = [("%g" % t) if isinstance(t, int) else ("%.1f" % t) for t in chip_yticks[i]]
    ax_c.set_yticklabels(labels)
    ax_c.set_xticks([])
    ax_c.set_xlabel("")
    ax_c.set_ylabel("CENH3\n(ChIP/input)", fontsize=6, color="#222222", linespacing=0.9)
    wide = max(len(t) for t in labels) > 2
    ax_c.yaxis.set_label_coords(-0.092 if wide else -0.072, 0.5)
    style(ax_c)
    h = [Line2D([], [], color=c_rep1, lw=1.3), Line2D([], [], color=c_rep2, lw=1.3)]
    ax_c.legend(h, ["Rep1", "Rep2"], loc="upper left", bbox_to_anchor=(1.025, 0.86), frameon=False,
                fontsize=7, handlelength=0.8, handletextpad=0.45, labelspacing=0.12,
                borderaxespad=0, borderpad=0)

    # gene track
    ax_g.axvspan(cen_start[i], cen_end[i], color=shade, zorder=0, lw=0)
    ax_g.vlines(genes[i], 0.2, 0.8, color="#111111", lw=0.6)
    ax_g.set_xlim(xl)
    ax_g.set_ylim(0, 1)
    ax_g.axis("off")

    # TE content track
    ax_t.axvspan(cen_start[i], cen_end[i], color=shade, zorder=0, lw=0)
    series = [("Other_TE", other_te[i], 0.9), ("RLG_Cereba", cereba[i], 0.9),
              ("RLG_Quinta", quinta[i], 0.9), ("total_TE", total_te[i], 0.55)]
    for lab, vals, lw in series:
        xs = np.linspace(x_start[i], x_end[i], len(vals))
        sns.lineplot(x=xs, y=vals, ax=ax_t, color=te_colors[lab], linewidth=lw, estimator=None, sort=False)
    ax_t.set_xlim(xl)
    ax_t.set_ylim(-5, 105)
    ax_t.set_yticks([0, 25, 50, 75, 100])
    ax_t.set_xticks(x_ticks[i])
    ax_t.set_ylabel("TE content [%]", fontsize=6.5, color="#222222")
    ax_t.yaxis.set_label_coords(-0.075, 0.5)
    ax_t.set_xlabel("Position on %s %s [Mb]" % (name.split("_")[1], name.split("_")[0]),
                    fontsize=6.5, color="#222222", labelpad=1.5)
    style(ax_t)
    h = [Line2D([], [], color=te_colors[k], lw=1.3) for k in te_colors]
    leg = ax_t.legend(h, list(te_colors), loc="upper left", bbox_to_anchor=(1.025, 0.92), frameon=False,
                      fontsize=7, handlelength=0.8, handletextpad=0.45, labelspacing=0.05,
                      borderaxespad=0, borderpad=0)
    leg.get_texts()[1].set_fontstyle("italic")
    leg.get_texts()[2].set_fontstyle("italic")

fig.savefig("out.png", dpi=100, facecolor="white")
